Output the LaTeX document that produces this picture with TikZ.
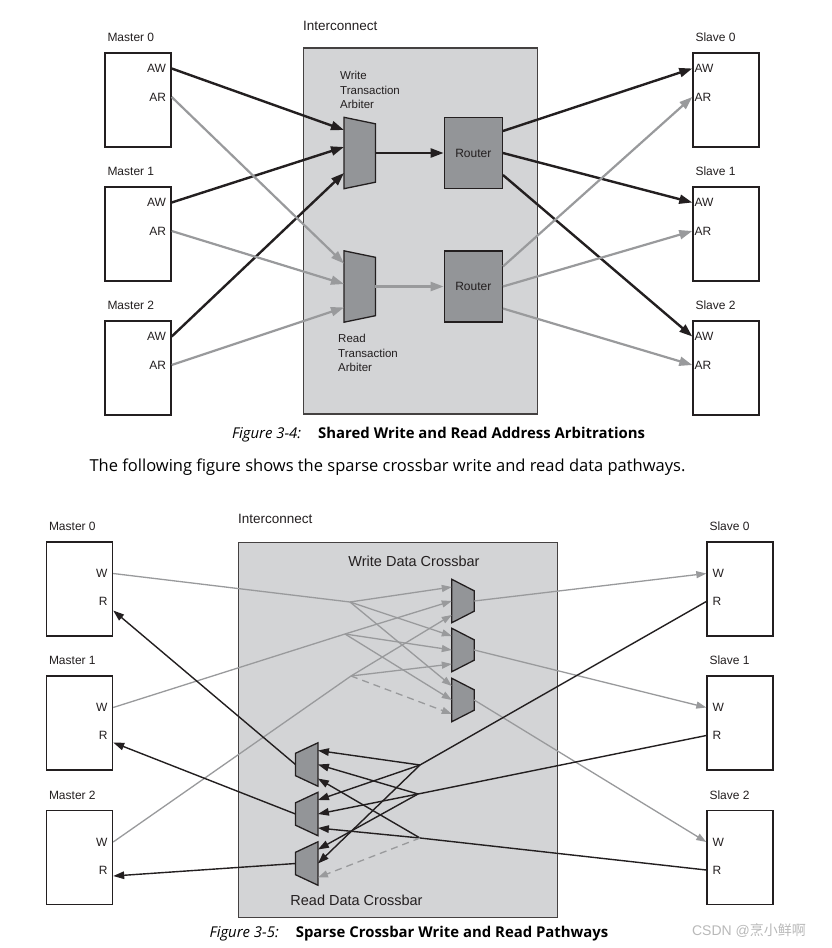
\documentclass[tikz,border=0pt]{standalone}
\usepackage{fontspec}
\setmainfont{Liberation Sans}
\newfontfamily\capfont{Open Sans}
\newfontfamily\cjkfont{Noto Sans CJK SC}
\usepackage{tikz}
\usetikzlibrary{arrows.meta, positioning, calc}

\definecolor{ink}{HTML}{231F20}
\definecolor{wire}{HTML}{999A9C}
\definecolor{icfill}{HTML}{D3D4D6}
\definecolor{blockfill}{HTML}{939598}

\begin{document}
\begin{tikzpicture}[x=1pt, y=-1pt,
            unit/.style={draw=ink, line width=1.4pt, fill=white, minimum width=66pt, minimum height=94pt, inner sep=0pt},
            icbox/.style={draw=ink!85, line width=1.4pt, fill=icfill, inner sep=0pt},
            muxbox/.style={inner sep=0pt},
            block/.style={draw=ink, line width=1.3pt, fill=blockfill},
            lbl/.style={font=\fontsize{12}{14}\selectfont, text=ink, inner sep=2pt},
            port/.style={font=\fontsize{12}{14}\selectfont, text=ink, inner ysep=0pt},
            note/.style={font=\fontsize{11.5}{14.5}\selectfont, text=ink, align=left, inner sep=2pt},
            title/.style={font=\fontsize{14.5}{17}\selectfont, text=ink, inner sep=0pt},
            wthick/.style={draw=ink, line width=2.4pt, -{Triangle[length=13pt, width=9pt]}},
            rthick/.style={draw=wire, line width=2.2pt, -{Triangle[length=13pt, width=9pt]}},
            gwire/.style={draw=wire, line width=1.3pt, -{Triangle[length=10pt, width=7pt]}},
            gdash/.style={gwire, dash pattern=on 7pt off 5pt},
            kwire/.style={draw=ink, line width=1.4pt, -{Triangle[length=11pt, width=7.5pt]}},
            caption/.style={font=\capfont\fontsize{14.9}{17}\selectfont, text=black, inner sep=0pt}
        ]
            \useasboundingbox (0,0) rectangle (832,948);
            \fill[white] (0,0) rectangle (832,948);

            % ---------- Figure 3-4 ----------
            \node[icbox, minimum width=234pt, minimum height=366pt] (ic1) at (420.5,231) {};
            \node[lbl, font=\fontsize{13.5}{16}\selectfont, anchor=south west] (ic1name) at ([shift={(-2pt,14pt)}]ic1.north west) {Interconnect};

            % Masters and slaves
            \foreach \i/\y in {0/100, 1/234, 2/368} {
                \node[unit] (m\i) at (138,\y) {};
                \node[lbl, anchor=south west] (m\i name) at ([shift={(1pt,8pt)}]m\i.north west) {Master \i};
                \node[port, inner xsep=5.5pt, anchor=east] (m\i aw) at ([yshift=31.5pt]m\i.east) {AW};
                \node[port, inner xsep=5.5pt, anchor=east] (m\i ar) at ([yshift=3pt]m\i.east) {AR};
                \node[unit] (s\i) at (726,\y) {};
                \node[lbl, anchor=south west] (s\i name) at ([shift={(1pt,8pt)}]s\i.north west) {Slave \i};
                \node[port, inner xsep=2pt, anchor=west] (s\i aw) at ([yshift=31.5pt]s\i.west) {AW};
                \node[port, inner xsep=2pt, anchor=west] (s\i ar) at ([yshift=3pt]s\i.west) {AR};
            }

            % Arbiters
            \node[muxbox, minimum width=31pt, minimum height=71pt] (wa) at (359.7,153) {};
            \node[muxbox, minimum width=31pt, minimum height=71pt] (ra) at (359.7,286.5) {};
            \foreach \a in {wa, ra}
                \draw[block] (\a.north west) -- ([yshift=-6.5pt]\a.north east) -- ([yshift=6.5pt]\a.south east) -- (\a.south west) -- cycle;
            \node[note, anchor=south west] (wanote) at ([shift={(-6pt,6pt)}]wa.north west) {Write\\Transaction\\Arbiter};
            \node[note, anchor=north west] (ranote) at ([shift={(-8pt,-10pt)}]ra.south west) {Read\\Transaction\\Arbiter};

            % Routers
            \node[block, minimum width=58pt, minimum height=71pt, lbl] (wr) at (473.3,153) {Router};
            \node[block, minimum width=58pt, minimum height=71pt, lbl] (rr) at (473.3,286.5) {Router};

            % Write address paths
            \draw[wthick] (m0aw.east) -- ([yshift=23pt]wa.west);
            \draw[wthick] (m1aw.east) -- ([yshift=6pt]wa.west);
            \draw[wthick] (m2aw.east) -- ([yshift=-20pt]wa.west);
            \draw[wthick] (wa.east) -- (wr.west);
            \draw[wthick] ([yshift=22pt]wr.east) -- (s0aw.west);
            \draw[wthick] (wr.east) -- (s1aw.west);
            \draw[wthick] ([yshift=-22pt]wr.east) -- (s2aw.west);

            % Read address paths
            \draw[rthick] (m0ar.east) -- ([yshift=23pt]ra.west);
            \draw[rthick] (m1ar.east) -- ([yshift=2.5pt]ra.west);
            \draw[rthick] (m2ar.east) -- ([yshift=-21pt]ra.west);
            \draw[rthick] (ra.east) -- (rr.west);
            \draw[rthick] ([yshift=20pt]rr.east) -- (s0ar.west);
            \draw[rthick] (rr.east) -- (s1ar.west);
            \draw[rthick] ([yshift=-22pt]rr.east) -- (s2ar.west);

            \node[caption] (cap1) at (438.5,435) {\textit{Figure 3-4:}\hspace{17pt}\textbf{Shared Write and Read Address Arbitrations}};
            \node[caption, font=\capfont\fontsize{16.5}{19}\selectfont] (para) at (387.5,467) {The following figure shows the sparse crossbar write and read data pathways.};

            % ---------- Figure 3-5 ----------
            \node[icbox, minimum width=319pt, minimum height=375pt] (ic2) at (398.2,730) {};
            \node[lbl, font=\fontsize{13.5}{16}\selectfont, anchor=south west] (ic2name) at ([shift={(-2pt,16pt)}]ic2.north west) {Interconnect};
            \node[title] (wxname) at (414,561) {Write Data Crossbar};
            \node[title] (rxname) at (356.5,900) {Read Data Crossbar};

            \foreach \i/\y in {0/589, 1/723, 2/857.5} {
                \node[unit] (dm\i) at (79.5,\y) {};
                \node[lbl, anchor=south west] (dm\i name) at ([shift={(1pt,8pt)}]dm\i.north west) {Master \i};
                \node[port, inner xsep=5.5pt, anchor=east] (dm\i w) at ([yshift=15.5pt]dm\i.east) {W};
                \node[port, inner xsep=5.5pt, anchor=east] (dm\i r) at ([yshift=-12.5pt]dm\i.east) {R};
                \node[unit] (ds\i) at (740,\y) {};
                \node[lbl, anchor=south west] (ds\i name) at ([shift={(1pt,8pt)}]ds\i.north west) {Slave \i};
                \node[port, inner xsep=6pt, anchor=west] (ds\i w) at ([yshift=15.5pt]ds\i.west) {W};
                \node[port, inner xsep=6pt, anchor=west] (ds\i r) at ([yshift=-12.5pt]ds\i.west) {R};
            }

            % Crossbar muxes
            \foreach \i/\y in {0/601, 1/650, 2/700} {
                \node[muxbox, minimum width=22pt, minimum height=43pt] (wm\i) at (463,\y) {};
                \draw[block] (wm\i.north west) -- ([yshift=-11.5pt]wm\i.north east) -- ([yshift=11.5pt]wm\i.south east) -- (wm\i.south west) -- cycle;
            }
            \foreach \i/\y in {0/764.5, 1/814, 2/863.5} {
                \node[muxbox, minimum width=22pt, minimum height=43pt] (rm\i) at (306.7,\y) {};
                \draw[block] ([yshift=-10.5pt]rm\i.north west) -- (rm\i.north east) -- (rm\i.south east) -- ([yshift=10.5pt]rm\i.south west) -- cycle;
            }

            % Branch points
            \coordinate (wb0) at (350,602);
            \coordinate (wb1) at (345,634);
            \coordinate (wb2) at (351,676);
            \coordinate (rb0) at (420,765);
            \coordinate (rb1) at (418,794);
            \coordinate (rb2) at (420,838);

            % Write data
            \draw[gwire] (dm0w.east) -- (wb0) -- ([yshift=14pt]wm0.west);
            \draw[gwire] (wb0) -- ([yshift=14pt]wm1.west);
            \draw[gwire] (wb0) -- ([yshift=14pt]wm2.west);
            \draw[gwire] (dm1w.east) -- (wb1) -- (wm0.west);
            \draw[gwire] (wb1) -- (wm1.west);
            \draw[gwire] (wb1) -- (wm2.west);
            \draw[gwire] (dm2w.east) -- (wb2) -- ([yshift=-14pt]wm0.west);
            \draw[gwire] (wb2) -- ([yshift=-14pt]wm1.west);
            \draw[gdash] (wb2) -- ([yshift=-14pt]wm2.west);
            \draw[gwire] (wm0.east) -- (ds0w.west);
            \draw[gwire] (wm1.east) -- (ds1w.west);
            \draw[gwire] (wm2.east) -- (ds2w.west);

            % Read data
            \draw[kwire] (ds0r.west) -- (rb0) -- ([yshift=14pt]rm0.east);
            \draw[kwire] (rb0) -- ([yshift=14pt]rm1.east);
            \draw[kwire] (rb0) -- (rm2.east);
            \draw[kwire] (ds1r.west) -- (rb1) -- (rm0.east);
            \draw[kwire] (rb1) -- (rm1.east);
            \draw[kwire] (rb1) -- ([yshift=14pt]rm2.east);
            \draw[kwire] (ds2r.west) -- (rb2) -- ([yshift=-14pt]rm0.east);
            \draw[kwire] (rb2) -- ([yshift=-14pt]rm1.east);
            \draw[gdash] (rb2) -- ([yshift=-14pt]rm2.east);
            \draw[kwire] (rm0.west) -- ([yshift=-9pt]dm0r.east);
            \draw[kwire] (rm1.west) -- ([yshift=-7pt]dm1r.east);
            \draw[kwire] (rm2.west) -- ([yshift=-6pt]dm2r.east);

            \node[caption] (cap2) at (409,934) {\textit{Figure 3-5:}\hspace{17pt}\textbf{Sparse Crossbar Write and Read Pathways}};
            \node[lbl, font=\fontsize{14}{16}\selectfont, text=gray!55] (csdn) at (749,931) {CSDN @{\cjkfont 烹小鲜啊}};
        \end{tikzpicture}
\end{document}
